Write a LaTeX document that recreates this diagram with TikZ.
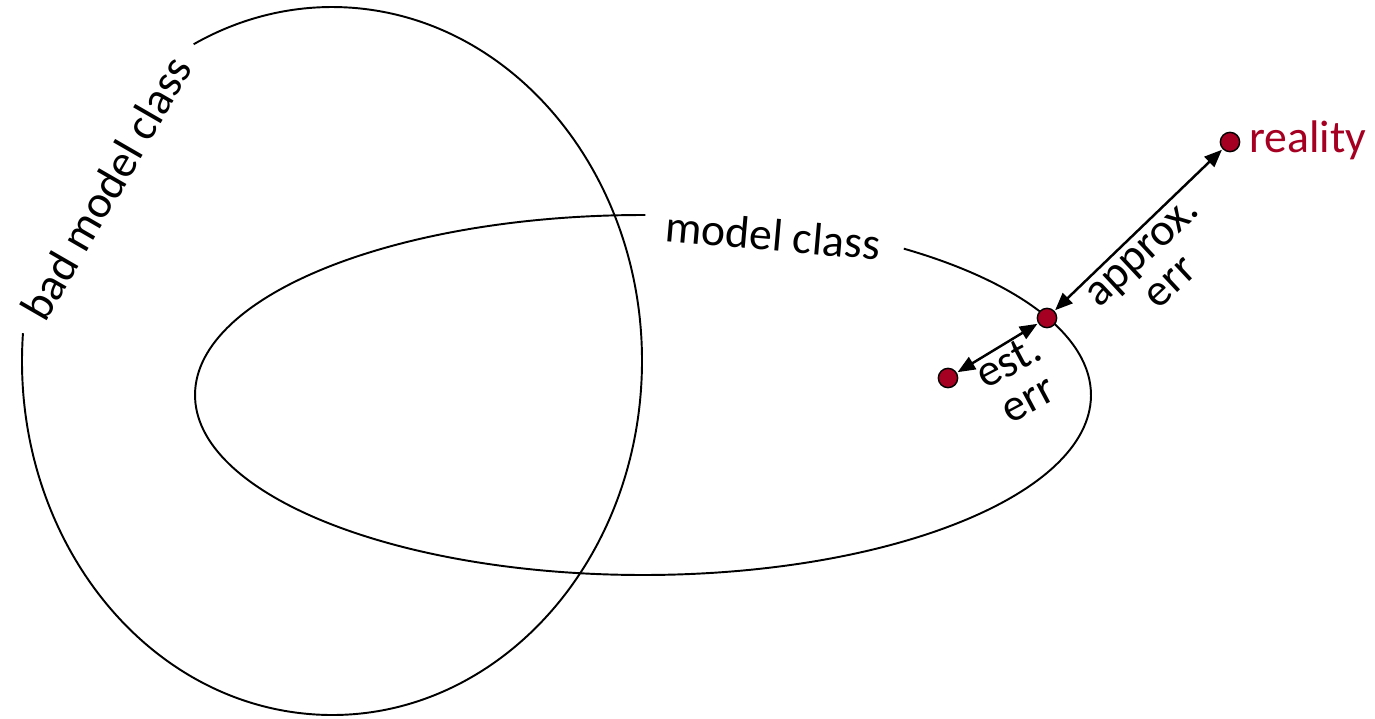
\documentclass[tikz,border=0pt]{standalone}
\usepackage{fontspec}
\setmainfont{Carlito}
\usepackage{xcolor}
\usepackage{tikz}
\usetikzlibrary{positioning, calc, arrows.meta}

\definecolor{dotred}{RGB}{165,0,33}

\tikzset{
    classline/.style={line width=1.1pt},
    errarrow/.style={line width=1.4pt, {Triangle[length=10pt,width=8pt]}-{Triangle[length=10pt,width=8pt]}, shorten <=0.5pt, shorten >=0.5pt},
    pointdot/.style={circle, draw=black, line width=0.8pt, fill=dotred, minimum size=11pt, inner sep=0pt},
    lbl/.style={font=\fontsize{26}{24}\selectfont, align=center, inner sep=0pt}
}

\begin{document}
\begin{tikzpicture}[x=0.02cm,y=0.02cm]
        \useasboundingbox (0,0) rectangle (1375,718);

        % Bad model class (open at the label)
        \draw[classline] (332,357) ++(175.5:310 and 354)
            arc[start angle=175.5, end angle=476.5, x radius=310, y radius=354];
        \node[lbl, rotate=60] (badlbl) at (106,530) {bad model class};

        % Model class (open at the label)
        \draw[classline] (643,323) ++(89.7:448 and 180)
            arc[start angle=89.7, end angle=414.4, x radius=448, y radius=180];
        \node[lbl, rotate=-5] (classlbl) at (773,483) {model class};

        % Points
        \node[pointdot] (reality) at (1230,576) {};
        \node[pointdot] (best) at (1047,400) {};
        \node[pointdot] (estim) at (948,340) {};
        \node[lbl, text=dotred, right=5pt of reality, yshift=1pt] (realitylbl) {reality};

        % Errors
        \draw[errarrow] (best) -- (reality);
        \draw[errarrow] (estim) -- (best);
        \node[lbl, rotate=43] (approxlbl) at (1157,450) {approx.\\err};
        \node[lbl, rotate=28] (estlbl) at (1018,338) {est.\\err};
    \end{tikzpicture}
\end{document}
